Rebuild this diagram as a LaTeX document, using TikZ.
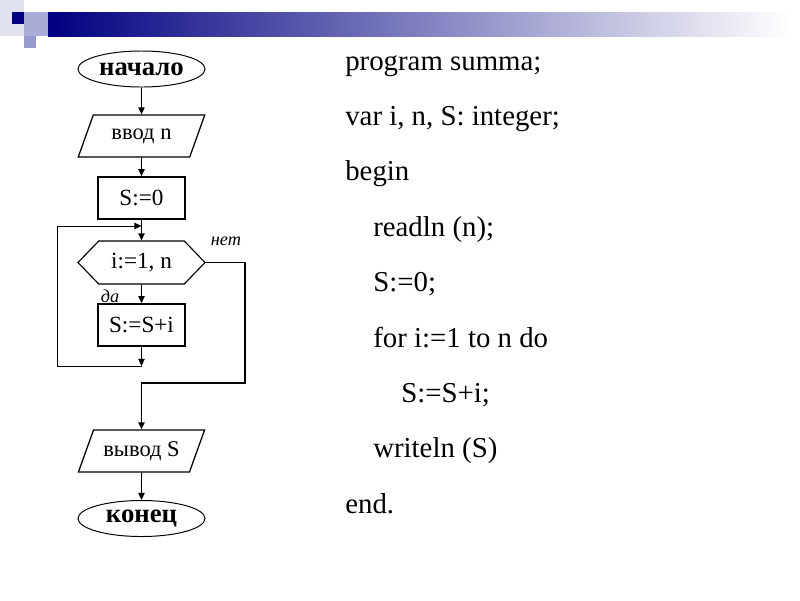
\documentclass[tikz,border=0pt]{standalone}
\usepackage{fontspec}
\setmainfont{Liberation Serif}
\usetikzlibrary{arrows.meta, shapes.geometric, shapes.symbols}
\definecolor{navy}{RGB}{0,0,128}
\definecolor{paleblue}{RGB}{224,226,240}
\definecolor{midblue}{RGB}{168,172,214}
\definecolor{softblue}{RGB}{150,154,204}

\tikzset{
  termbox/.style={ellipse, draw, line width=0.7pt, minimum width=3.175cm, minimum height=0.9cm, inner sep=0pt, font=\fontsize{19}{19}\selectfont\bfseries},
  iobox/.style={trapezium, trapezium left angle=58, trapezium right angle=122, trapezium stretches=true, draw, line width=0.9pt, minimum width=3.175cm, minimum height=1.05cm, inner sep=0pt, font=\fontsize{16}{16}\selectfont},
  procbox/.style={rectangle, draw, line width=1.2pt, minimum width=2.175cm, minimum height=1.05cm, inner sep=0pt, font=\fontsize{16.5}{16.5}\selectfont},
  condbox/.style={signal, signal to=west and east, signal pointer angle=92, draw, line width=0.8pt, minimum width=3.175cm, minimum height=1.075cm, inner sep=0pt, font=\fontsize{16.5}{16.5}\selectfont},
  flow/.style={line width=0.7pt, -{Triangle[length=5pt,width=4.5pt]}},
  codeline/.style={anchor=base west, inner sep=0pt, font=\fontsize{20.5}{20.5}\selectfont},
  branch/.style={inner sep=0pt, font=\fontsize{13}{13}\selectfont\itshape},
}

\begin{document}
\begin{tikzpicture}[x=0.025cm, y=-0.025cm]
  \useasboundingbox (0,0) rectangle (800,600);

  % Title bar
  \fill[paleblue] (0,0) rectangle (24,36);
  \shade[left color=navy, right color=white] (48,12) rectangle (790,36);
  \fill[midblue] (24,12) rectangle (48,36);
  \fill[navy] (12,12) rectangle (24,24);
  \fill[softblue] (24,36) rectangle (36,48);

  % Flowchart
  \node[termbox] (start) at (141.5,69) {начало};
  \node[iobox] (input) at (141.5,136) {ввод n};
  \node[procbox] (init) at (141.5,198) {S:=0};
  \node[condbox] (loop) at (141.5,262.5) {i:=1, n};
  \node[procbox] (body) at (141.5,325) {S:=S+i};
  \node[iobox] (output) at (141.5,451) {вывод S};
  \node[termbox] (stop) at (141.5,518.5) {конец};

  \coordinate (loopin) at (141.5,226);
  \coordinate (bodyout) at (141.5,366);
  \coordinate (exitbend) at (245,383);

  \draw[flow] (start) -- (input);
  \draw[flow] (input) -- (init);
  \draw[flow] (init) -- (loop);
  \draw[flow] (loop) -- (body);
  \draw[flow] (body) -- (bodyout);
  \draw[flow] (bodyout) -- ++(-84.5,0) |- (loopin);
  \draw[flow, line width=1pt] (loop.east) -| (exitbend) -| (output.north);
  \draw[flow] (output) -- (stop);

  \node[branch] (no) at (226,241) {нет};
  \node[branch] (yes) at (110,296) {да};

  % Program text
  \foreach \ind/\txt [count=\k from 0] in {0/{program summa;}, 0/{var i, n, S: integer;}, 0/{begin}, 1/{readln (n);}, 1/{S:=0;}, 1/{for i:=1 to n do}, 2/{S:=S+i;}, 1/{writeln (S)}, 0/{end.}}
    \node[codeline] (code\k) at (345+28*\ind, 70+55.4*\k) {\txt};
\end{tikzpicture}
\end{document}
